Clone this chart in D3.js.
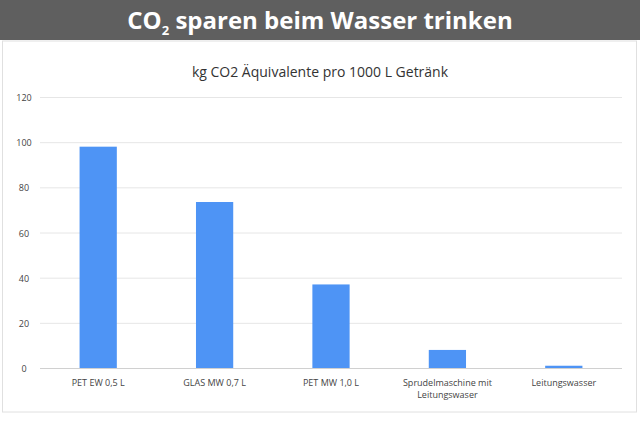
<!DOCTYPE html>
<html><head><meta charset="utf-8">
<script src="https://cdn.jsdelivr.net/npm/d3@7"></script>
<style>body{margin:0;background:#fff}svg{display:block}</style>
</head><body>
<script>
const categories=["PET EW 0,5 L","GLAS MW 0,7 L","PET MW 1,0 L","Sprudelmaschine mit|Leitungswaser","Leitungswasser"];
const values=[98,73.5,37,8,1];
const yTicks=[0,20,40,60,80,100,120];
const W=640,H=430;
const svg=d3.select("body").append("svg").attr("width",W).attr("height",H);
svg.append("rect").attr("x",0).attr("y",0).attr("width",W).attr("height",40).attr("fill","#5f5f5f");
const t=svg.append("text").attr("x",320).attr("y",29).attr("text-anchor","middle").attr("fill","#fff")
 .attr("font-family","Open Sans").attr("font-weight","bold").attr("font-size",24);
t.append("tspan").text("CO");
t.append("tspan").attr("font-size",13).attr("dy",6).text("2");
t.append("tspan").attr("dy",-6).text(" sparen beim Wasser trinken");
svg.append("rect").attr("x",2.5).attr("y",41).attr("width",634).attr("height",371).attr("fill","#fff").attr("stroke","#e0e0e0");
svg.append("text").attr("x",320).attr("y",77).attr("text-anchor","middle").attr("fill","#333")
 .attr("font-family","Open Sans").attr("font-size",14).text("kg CO2 Äquivalente pro 1000 L Getränk");
const x=d3.scaleBand().domain(categories).range([40,622]).paddingInner(0.68).paddingOuter(0.34);
const y=d3.scaleLinear().domain([0,120]).range([368,97]);
const g=svg.append("g");
g.selectAll("line.grid").data(yTicks).join("line").attr("x1",40).attr("x2",622)
 .attr("y1",d=>y(d)+0.5).attr("y2",d=>y(d)+0.5).attr("stroke",d=>d===0?"#d0d0d0":"#e6e6e6");
g.selectAll("text.yt").data(yTicks).join("text").attr("x",24).attr("y",d=>y(d)+4).attr("text-anchor","middle")
 .attr("font-family","Open Sans").attr("font-size",9).attr("fill","#444").text(d=>d);
g.selectAll("rect.bar").data(values).join("rect").attr("x",(d,i)=>x(categories[i])).attr("width",x.bandwidth())
 .attr("y",d=>y(d)).attr("height",d=>y(0)-y(d)).attr("fill","#4e94f5");
categories.forEach(c=>{
 const lines=c.split("|");
 const tx=svg.append("text").attr("x",x(c)+x.bandwidth()/2).attr("y",386).attr("text-anchor","middle")
  .attr("font-family","Open Sans").attr("font-size",9).attr("fill","#444");
 lines.forEach((l,i)=>tx.append("tspan").attr("x",x(c)+x.bandwidth()/2).attr("dy",i?12:0).text(l));
});
</script>
</body></html>
